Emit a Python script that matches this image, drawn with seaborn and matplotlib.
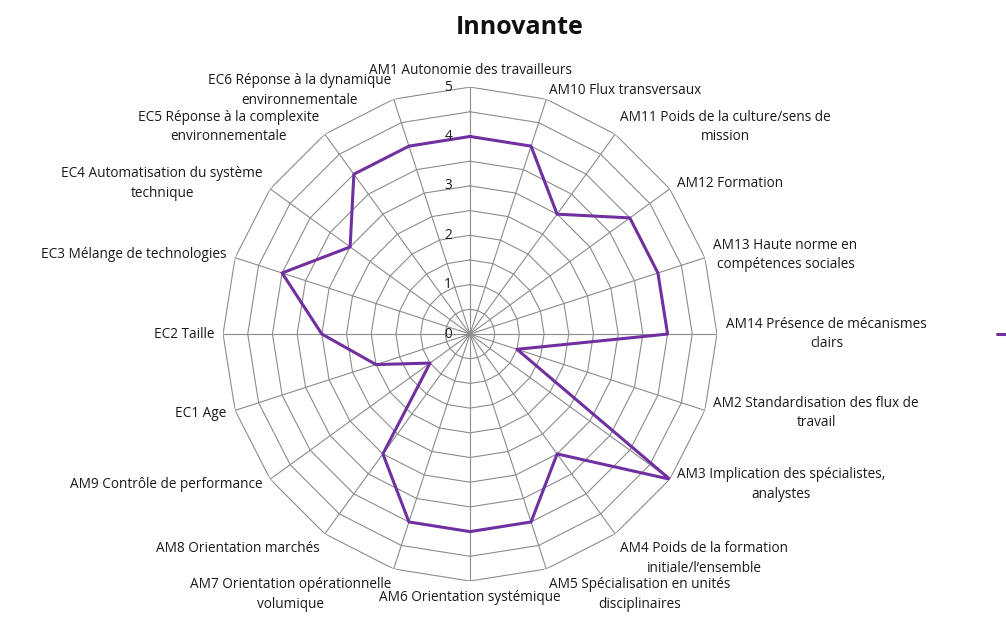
import numpy as np
import seaborn as sns
import matplotlib.pyplot as plt

# categories (clockwise from top) and scores
categories = [
    'AM1 Autonomie des travailleurs',
    'AM10 Flux transversaux',
    'AM11 Poids de la culture/sens de\nmission',
    'AM12 Formation',
    'AM13 Haute norme en\ncompétences sociales',
    'AM14 Présence de mécanismes\nclairs',
    'AM2 Standardisation des flux de\ntravail',
    'AM3 Implication des spécialistes,\nanalystes',
    'AM4 Poids de la formation\ninitiale/l\u2019ensemble',
    'AM5 Spécialisation en unités\ndisciplinaires',
    'AM6 Orientation systémique',
    'AM7 Orientation opérationnelle\nvolumique',
    'AM8 Orientation marchés',
    'AM9 Contrôle de performance',
    'EC1 Age',
    'EC2 Taille',
    'EC3 Mélange de technologies',
    'EC4 Automatisation du système\ntechnique',
    'EC5 Réponse à la complexite\nenvironnementale',
    'EC6 Réponse à la dynamique\nenvironnementale',
]
values = [4, 4, 3, 4, 4, 4, 1, 5, 3, 4, 4, 4, 3, 1, 2, 3, 4, 3, 4, 4]
tick_values = [0, 1, 2, 3, 4, 5]
series_name = 'Innovante'

sns.set_style('white')
plt.rcParams['font.family'] = ['Open Sans', 'DejaVu Sans']

purple = '#7030A0'
grid_color = '#8c8c8c'
txt_color = '#1a1a1a'

n = len(categories)
theta = np.arange(n) * 2 * np.pi / n
theta_closed = np.append(theta, 2 * np.pi)
vals_closed = values + values[:1]

fig = plt.figure(figsize=(10.06, 6.17), dpi=100)
ax = fig.add_axes([0.2217, 0.0583, 0.491, 0.8006], projection='polar')
ax.set_theta_zero_location('N')
ax.set_theta_direction(-1)
ax.set_ylim(0, 5)
ax.grid(False)
ax.set_xticks([])
ax.set_yticks([])
ax.spines['polar'].set_visible(False)

# polygon rings every 0.5
for r in np.arange(0.5, 5.01, 0.5):
    ax.plot(theta_closed, [r] * (n + 1), color=grid_color, lw=0.8, zorder=1)
# spokes
for t in theta:
    ax.plot([t, t], [0, 5], color=grid_color, lw=0.8, zorder=1)

sns.lineplot(x=theta_closed, y=vals_closed, sort=False, color=purple,
             lw=2.2, ax=ax, label=series_name, zorder=3)

# radial tick labels
for v in tick_values:
    ax.annotate(str(v), xy=(0, v), xytext=(-18, 0), textcoords='offset pixels',
                ha='right', va='center', fontsize=9.8, color=txt_color)

# category labels
for t, lab in zip(theta, categories):
    s, c = np.sin(t), np.cos(t)
    if abs(s) < 0.05:
        ha = 'center'
    elif s > 0:
        ha = 'left'
    else:
        ha = 'right'
    if c > 0.99:
        va = 'bottom'
    elif c < -0.75:
        va = 'top'
    else:
        va = 'center'
    ax.annotate(lab, xy=(t, 5), xytext=(9 * s, 9 * c), textcoords='offset pixels',
                ha=ha, va=va, fontsize=9.8, color=txt_color,
                multialignment='center', linespacing=1.4)

fig.text(0.517, 0.955, 'Innovante', ha='center', va='center',
         fontsize=18, fontweight='bold', color='#111111')

# legend sits at the right edge, mostly outside the canvas as in the original
leg = ax.legend(loc='center left', bbox_to_anchor=(0.991, 0.457),
                bbox_transform=fig.transFigure, frameon=False,
                borderpad=0, borderaxespad=0, handlelength=2.5, fontsize=9.5)

fig.savefig('out.png', dpi=100)
